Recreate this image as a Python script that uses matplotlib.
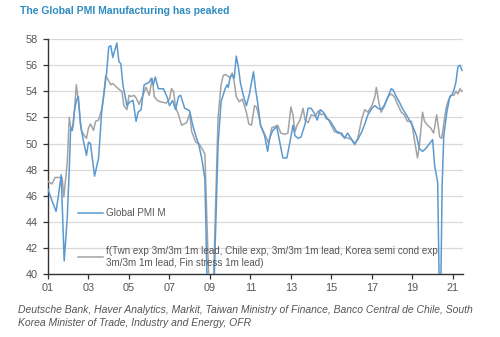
import matplotlib
matplotlib.use("Agg")
import matplotlib.pyplot as plt

plt.rcParams['font.family'] = ['Liberation Sans', 'DejaVu Sans']

# Global PMI Manufacturing (decimal year, index level)
pmi_t = [2001.0, 2001.2, 2001.4, 2001.55, 2001.65, 2001.8, 2001.95, 2002.05, 2002.12, 2002.2,
         2002.3, 2002.4, 2002.5, 2002.6, 2002.75, 2002.9, 2003.0, 2003.1, 2003.3, 2003.5,
         2003.65, 2003.9, 2004.0, 2004.1, 2004.2, 2004.4, 2004.5, 2004.6, 2004.7, 2004.9,
         2005.05, 2005.2, 2005.35, 2005.45, 2005.6, 2005.75, 2006.0, 2006.1, 2006.2, 2006.3,
         2006.45, 2006.7, 2006.9, 2007.0, 2007.15, 2007.3, 2007.45, 2007.55, 2007.75, 2007.9,
         2008.0, 2008.15, 2008.3, 2008.45, 2008.6, 2008.75, 2008.87, 2009.0, 2009.18, 2009.4,
         2009.55, 2009.75, 2009.85, 2009.9, 2010.0, 2010.1, 2010.2, 2010.3, 2010.4, 2010.5,
         2010.6, 2010.7, 2010.8, 2010.95, 2011.15, 2011.25, 2011.35, 2011.5, 2011.7, 2011.85,
         2011.95, 2012.1, 2012.3, 2012.45, 2012.6, 2012.8, 2012.95, 2013.1, 2013.2, 2013.35,
         2013.5, 2013.7, 2013.85, 2014.0, 2014.2, 2014.3, 2014.45, 2014.6, 2014.75, 2014.9,
         2015.15, 2015.3, 2015.5, 2015.65, 2015.8, 2016.0, 2016.15, 2016.3, 2016.5, 2016.65,
         2016.8, 2017.0, 2017.15, 2017.3, 2017.45, 2017.6, 2017.8, 2017.95, 2018.05, 2018.2,
         2018.35, 2018.5, 2018.7, 2018.85, 2019.0, 2019.2, 2019.35, 2019.5, 2019.65, 2019.85,
         2020.0, 2020.1, 2020.2, 2020.25, 2020.33, 2020.4, 2020.47, 2020.55, 2020.7, 2020.85,
         2020.95, 2021.05, 2021.15, 2021.25, 2021.35, 2021.45]
pmi_v = [46.5, 45.6, 44.8, 46.4, 47.6, 41.0, 44.3, 48.0, 51.2, 51.0,
         52.4, 53.3, 53.6, 51.5, 50.2, 49.1, 50.1, 50.0, 47.5, 48.9,
         52.4, 55.5, 57.4, 57.5, 56.6, 57.7, 56.3, 56.1, 54.5, 52.9,
         53.2, 53.3, 51.7, 52.4, 52.6, 54.5, 54.7, 55.0, 54.5, 55.1,
         54.2, 54.2, 53.5, 52.9, 53.3, 52.6, 53.6, 53.7, 52.7, 52.6,
         52.5, 51.4, 50.6, 49.9, 48.8, 47.3, 38.5, 36.0, 38.0, 49.9,
         53.2, 54.2, 54.5, 54.3, 55.1, 55.3, 55.0, 56.7, 55.9, 54.7,
         54.0, 53.4, 52.9, 53.8, 55.5, 54.2, 53.2, 51.4, 50.6, 49.4,
         50.4, 51.0, 51.3, 50.1, 48.9, 48.9, 50.1, 51.4, 50.6, 50.4,
         50.5, 51.5, 52.7, 52.7, 52.2, 51.8, 52.6, 52.4, 51.9, 51.8,
         51.2, 50.8, 50.8, 50.4, 50.8, 50.3, 50.0, 50.3, 50.9, 51.5,
         52.2, 52.7, 52.9, 52.7, 52.6, 52.9, 53.6, 54.2, 54.1, 53.6,
         53.2, 52.7, 52.2, 51.8, 51.4, 50.6, 49.6, 49.4, 49.6, 50.0,
         50.3, 48.3, 47.4, 47.0, 38.5, 38.5, 46.8, 50.6, 52.4, 53.6,
         53.7, 54.1, 54.7, 55.9, 56.0, 55.6]

# Fitted composite of lead indicators (decimal year, index level)
model_t = [2001.0, 2001.2, 2001.35, 2001.55, 2001.7, 2001.78, 2001.85, 2001.95, 2002.05, 2002.15,
           2002.25, 2002.4, 2002.5, 2002.65, 2002.8, 2002.9, 2003.0, 2003.1, 2003.25, 2003.35,
           2003.5, 2003.65, 2003.75, 2003.85, 2004.0, 2004.1, 2004.2, 2004.4, 2004.55, 2004.65,
           2004.75, 2004.9, 2005.0, 2005.1, 2005.25, 2005.35, 2005.5, 2005.6, 2005.85, 2006.0,
           2006.15, 2006.25, 2006.4, 2006.55, 2006.85, 2007.0, 2007.1, 2007.2, 2007.3, 2007.45,
           2007.6, 2007.85, 2008.0, 2008.1, 2008.3, 2008.45, 2008.65, 2008.75, 2008.97, 2009.15,
           2009.4, 2009.55, 2009.65, 2009.75, 2009.95, 2010.0, 2010.1, 2010.2, 2010.3, 2010.45,
           2010.6, 2010.8, 2010.92, 2011.05, 2011.2, 2011.3, 2011.4, 2011.5, 2011.65, 2011.8,
           2011.9, 2012.05, 2012.2, 2012.35, 2012.5, 2012.7, 2012.85, 2013.0, 2013.1, 2013.2,
           2013.3, 2013.45, 2013.6, 2013.7, 2013.85, 2014.0, 2014.2, 2014.35, 2014.5, 2014.65,
           2014.9, 2015.15, 2015.35, 2015.6, 2015.85, 2016.0, 2016.15, 2016.3, 2016.5, 2016.65,
           2016.8, 2017.0, 2017.15, 2017.22, 2017.35, 2017.45, 2017.6, 2017.8, 2017.95, 2018.1,
           2018.3, 2018.45, 2018.6, 2018.75, 2018.95, 2019.1, 2019.25, 2019.35, 2019.5, 2019.6,
           2019.75, 2019.9, 2020.05, 2020.2, 2020.27, 2020.35, 2020.45, 2020.65, 2020.75, 2020.9,
           2021.05, 2021.15, 2021.25, 2021.35, 2021.45]
model_v = [47.1, 46.9, 47.4, 47.4, 47.4, 45.9, 47.0, 48.5, 52.0, 51.0,
           51.4, 54.5, 53.2, 51.0, 50.6, 50.4, 51.2, 51.5, 51.0, 51.7,
           51.8, 52.6, 53.7, 55.2, 54.8, 54.5, 54.6, 54.3, 54.1, 54.0,
           52.9, 52.6, 53.7, 53.6, 53.7, 53.5, 53.0, 53.4, 54.3, 53.7,
           55.0, 53.6, 53.3, 53.2, 53.1, 53.4, 54.2, 54.0, 52.8, 52.2,
           51.4, 51.6, 52.3, 50.9, 50.1, 50.0, 49.5, 49.2, 38.0, 38.0,
           52.0, 54.5, 55.2, 55.3, 55.1, 55.0, 55.4, 54.7, 53.6, 53.2,
           53.4, 52.4, 51.5, 51.4, 52.9, 52.8, 52.2, 51.4, 50.9, 50.4,
           50.0, 51.2, 51.3, 51.4, 50.8, 50.7, 50.8, 52.8, 52.2, 50.9,
           51.4, 51.8, 52.7, 51.8, 51.6, 52.2, 52.1, 52.5, 52.2, 52.3,
           51.7, 50.9, 50.9, 50.5, 50.4, 50.3, 49.9, 50.4, 51.9, 52.6,
           52.4, 52.9, 53.6, 54.3, 53.1, 52.4, 52.8, 53.6, 53.8, 53.6,
           52.9, 52.4, 52.2, 51.7, 51.7, 50.3, 48.9, 49.9, 52.4, 51.7,
           51.4, 51.2, 50.8, 52.2, 51.4, 50.5, 50.4, 52.6, 53.2, 53.7,
           53.7, 54.0, 53.8, 54.2, 54.0]

y_ticks = [40, 42, 44, 46, 48, 50, 52, 54, 56, 58]
x_ticks = [2001, 2003, 2005, 2007, 2009, 2011, 2013, 2015, 2017, 2019, 2021]
x_labels = ['01', '03', '05', '07', '09', '11', '13', '15', '17', '19', '21']

pmi_label = 'Global PMI M'
model_label = ('f(Twn exp 3m/3m 1m lead, Chile exp, 3m/3m 1m lead, Korea semi cond exp\n'
               '3m/3m 1m lead, Fin stress 1m lead)')
title = 'The Global PMI Manufacturing has peaked'
source = ('Deutsche Bank, Haver Analytics, Markit, Taiwan Ministry of Finance, Banco Central de Chile, South\n'
          'Korea Minister of Trade, Industry and Energy, OFR')

W, H = 500, 337
fig = plt.figure(figsize=(W / 100, H / 100), dpi=100)
ax = fig.add_axes([48 / W, 1 - 274 / H, (463 - 48) / W, (274 - 38.5) / H])

blue = '#5b9ad0'
grey = '#a3a3a3'

ax.plot(model_t, model_v, color=grey, lw=1.1, label=model_label, zorder=3)
ax.plot(pmi_t, pmi_v, color=blue, lw=1.1, label=pmi_label, zorder=4)

ax.set_xlim(2001, 2021.5)
ax.set_ylim(40, 58.05)
ax.set_yticks(y_ticks)
ax.set_xticks(x_ticks)
ax.set_xticklabels(x_labels)
ax.grid(axis='y', color='#d9d9d9', lw=0.9)
ax.set_axisbelow(True)
for s in ('top', 'right'):
    ax.spines[s].set_visible(False)
for s in ('left', 'bottom'):
    ax.spines[s].set_color('#333333')
    ax.spines[s].set_linewidth(1.0)
ax.tick_params(axis='both', colors='#333333', labelcolor='#555555', labelsize=7.8,
               length=3.5, width=0.9, direction='out')
ax.tick_params(axis='y', pad=4)
ax.tick_params(axis='x', pad=3)

handles, labels = ax.get_legend_handles_labels()
leg = fig.legend(handles[::-1], labels[::-1], loc='upper left',
                 bbox_to_anchor=(78 / W, 1 - 208 / H), frameon=False,
                 fontsize=7.1, handlelength=2.5, handletextpad=0.35,
                 labelspacing=2.85, borderpad=0, borderaxespad=0)
for t in leg.get_texts():
    t.set_color('#555555')

fig.text(20 / W, 1 - 11 / H, title, color='#2f8cc0', fontsize=7.5,
         fontweight='bold', va='center', ha='left')
fig.text(18 / W, 1 - 305 / H, source, color='#555555', fontsize=7.45,
         style='italic', va='top', ha='left', linespacing=1.35)

fig.savefig('out.png', dpi=100)
